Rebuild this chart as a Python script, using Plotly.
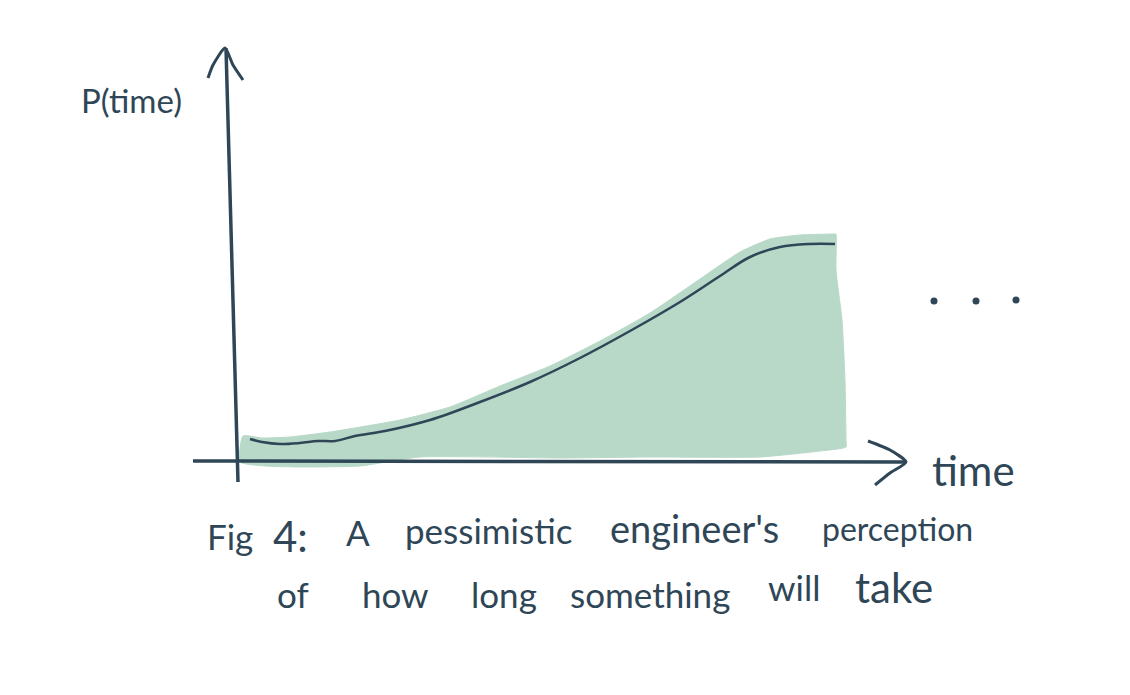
import plotly.graph_objects as go

INK = "#2f4657"
FILL = "#b8d9c8"
FONT = "Lato"

# Shaded band outline (time, height)
band_time = [243, 262, 290, 330, 400, 450, 500, 550, 600, 650, 700, 740, 770, 800, 835,
             836, 836, 842, 845, 846, 846, 820, 760, 650, 560, 420, 360, 300, 265, 240, 243]
band_p = [259, 257, 258, 263, 275, 288, 309, 329, 354, 382, 416, 443, 456, 460, 461,
          461, 425, 375, 315, 255, 248, 244, 238, 238, 237, 238, 229, 228, 229, 233, 259]

# Distribution curve
curve_time = [250, 262, 280, 300, 318, 335, 355, 385, 430, 480, 530, 580, 630, 680, 720, 750, 780, 810, 835]
curve_p = [256, 253, 251, 252, 254, 254, 259, 264, 275, 293, 313, 337, 364, 393, 419, 438, 448, 451, 451]

# Hand-drawn axes and arrow heads
y_axis_x = [226, 238]
y_axis_y = [647, 213]
y_head_x = [208, 213, 225, 233, 243]
y_head_y = [617, 630, 647, 630, 615]
x_axis_x = [193, 906]
x_axis_y = [234, 233]
x_head_x = [868, 890, 906, 890, 875]
x_head_y = [254, 245, 233, 222, 210]

# Ellipsis dots
dots_x = [934, 976, 1016]
dots_y = [394, 394, 395]

# Caption words
words = ["Fig", "4:", "A", "pessimistic", "engineer's", "perception",
         "of", "how", "long", "something", "will", "take"]
word_x = [230, 290, 358, 488, 694, 897, 293, 395, 504, 650, 794, 894]
word_y = [159, 159, 163, 165, 167, 167, 101, 101, 101, 101, 108, 108]
word_size = [35, 42, 35, 35, 38, 32, 35, 35, 35, 35, 35, 42]

fig = go.Figure()
fig.add_trace(go.Scatter(x=band_time, y=band_p, mode="lines", fill="toself", fillcolor=FILL,
                         line=dict(color=FILL, width=1, shape="spline", smoothing=0.5)))
fig.add_trace(go.Scatter(x=x_axis_x, y=x_axis_y, mode="lines", line=dict(color=INK, width=3.5)))
fig.add_trace(go.Scatter(x=y_axis_x, y=y_axis_y, mode="lines", line=dict(color=INK, width=3.5)))
for hx, hy in ((x_head_x, x_head_y), (y_head_x, y_head_y)):
    fig.add_trace(go.Scatter(x=hx, y=hy, mode="lines",
                             line=dict(color=INK, width=3, shape="spline", smoothing=0.6)))
fig.add_trace(go.Scatter(x=curve_time, y=curve_p, mode="lines",
                         line=dict(color=INK, width=2.5, shape="spline")))
fig.add_trace(go.Scatter(x=dots_x, y=dots_y, mode="markers", marker=dict(color=INK, size=7)))

def label(text, x, y, size):
    fig.add_annotation(x=x, y=y, text=text, showarrow=False, xanchor="center", yanchor="middle",
                       font=dict(family=FONT, size=size, color=INK, weight=400))

label("P(time)", 131, 595, 33)
label("time", 973, 225, 42)
for w, x, y, s in zip(words, word_x, word_y, word_size):
    label(w, x, y, s)

# The page adds an 8px body margin, so the ranges are offset to keep the marks in place.
fig.update_layout(
    width=1130, height=695, margin=dict(l=0, r=0, t=0, b=0),
    plot_bgcolor="white", paper_bgcolor="white", showlegend=False,
    xaxis=dict(range=[8, 1138], visible=False),
    yaxis=dict(range=[-8, 687], visible=False),
)
fig.write_html("out.html")
